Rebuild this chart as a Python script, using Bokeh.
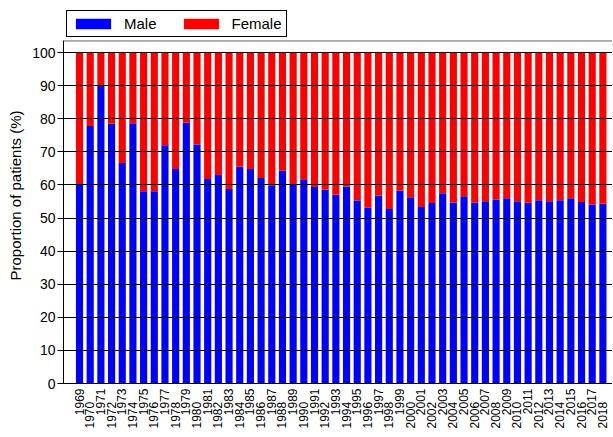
import math
from bokeh.plotting import figure
from bokeh.models import (Range1d, FixedTicker, Legend, LegendItem, Span,
                          ColumnDataSource)
from bokeh.embed import file_html
from bokeh.resources import INLINE

years = [1969, 1970, 1971, 1972, 1973, 1974, 1975, 1976, 1977, 1978,
         1979, 1980, 1981, 1982, 1983, 1984, 1985, 1986, 1987, 1988,
         1989, 1990, 1991, 1992, 1993, 1994, 1995, 1996, 1997, 1998,
         1999, 2000, 2001, 2002, 2003, 2004, 2005, 2006, 2007, 2008,
         2009, 2010, 2011, 2012, 2013, 2014, 2015, 2016, 2017, 2018]
year_labels = [str(y) for y in years]

male = [60.0, 77.8, 89.9, 78.5, 66.6, 78.6, 58.1, 58.1, 72.0, 64.8,
        78.8, 72.2, 61.8, 63.0, 58.8, 65.5, 64.8, 62.1, 59.9, 64.3,
        60.3, 61.7, 59.4, 58.6, 57.0, 59.5, 55.3, 53.1, 56.8, 52.7,
        58.3, 56.3, 53.3, 54.5, 57.5, 54.7, 56.6, 54.6, 55.1, 55.6,
        56.0, 55.1, 54.6, 55.4, 55.1, 55.4, 56.0, 54.8, 54.1, 54.3]
female = [round(100 - m, 1) for m in male]

series_names = ["Male", "Female"]
series_colors = ["#0000ff", "#ff0000"]
y_ticks = [0, 10, 20, 30, 40, 50, 60, 70, 80, 90, 100]
y_label = "Proportion of patients (%)"

FONT = "Liberation Sans"
PLOT_TOP = 103.5   # top edge of the drawn box

src = ColumnDataSource(dict(year=years, Male=male, Female=female))

p = figure(width=612, height=433, output_backend="svg", toolbar_location=None,
           x_range=Range1d(1967.5, 2018.9), y_range=Range1d(0, 113.6),
           min_border_left=63, min_border_right=0, min_border_top=7,
           min_border_bottom=50)
p.outline_line_color = None
p.background_fill_color = "white"
p.border_fill_color = "white"

rs = p.vbar_stack(series_names, x="year", width=0.67, source=src,
                  fill_color=series_colors, line_color=None)

# top box line
p.add_layout(Span(location=PLOT_TOP, dimension="width", line_color="black",
                  line_alpha=0.6, line_width=1))

# grid drawn over bars
p.xgrid.visible = False
p.ygrid.ticker = FixedTicker(ticks=y_ticks)
p.ygrid.grid_line_color = "black"
p.ygrid.grid_line_width = 1
p.ygrid.level = "overlay"

# y axis
ya = p.yaxis[0]
ya.ticker = FixedTicker(ticks=y_ticks)
ya.bounds = (0, PLOT_TOP)
ya.major_tick_out = 6
ya.major_tick_in = 0
ya.minor_tick_line_color = None
ya.axis_line_color = "black"
ya.major_tick_line_color = "black"
ya.major_label_text_font = FONT
ya.major_label_text_font_size = "14px"
ya.major_label_text_color = "black"
ya.major_label_standoff = 2
ya.axis_label = y_label
ya.axis_label_text_font = FONT
ya.axis_label_text_font_size = "15px"
ya.axis_label_text_font_style = "normal"
ya.axis_label_text_color = "black"
ya.axis_label_standoff = 5

# x axis with staggered vertical labels
xa = p.xaxis[0]
xa.ticker = FixedTicker(ticks=years)
overrides = {}
for i, (y, lab) in enumerate(zip(years, year_labels)):
    overrides[y] = lab if i % 2 == 0 else lab + "\u00a0" * 4
xa.major_label_overrides = overrides
xa.major_label_orientation = math.pi / 2
xa.major_tick_out = 0
xa.major_tick_in = 0
xa.minor_tick_line_color = None
xa.axis_line_color = "black"
xa.major_label_text_font = FONT
xa.major_label_text_font_size = "12px"
xa.major_label_text_color = "black"
xa.major_label_standoff = 5

legend = Legend(items=[LegendItem(label=series_names[0], renderers=[rs[0]]),
                       LegendItem(label=series_names[1], renderers=[rs[1]])],
                orientation="horizontal", location="top_left")
legend.border_line_color = "black"
legend.border_line_width = 1
legend.border_line_alpha = 1
legend.background_fill_color = "white"
legend.background_fill_alpha = 1
legend.glyph_width = 44
legend.glyph_height = 13
legend.label_height = 13
legend.label_text_font = FONT
legend.label_text_font_size = "15px"
legend.label_text_color = "black"
legend.label_standoff = 9
legend.spacing = 22
legend.padding = 4
legend.margin = 3
p.add_layout(legend, "center")

open("out.html", "w").write(file_html(p, INLINE))
